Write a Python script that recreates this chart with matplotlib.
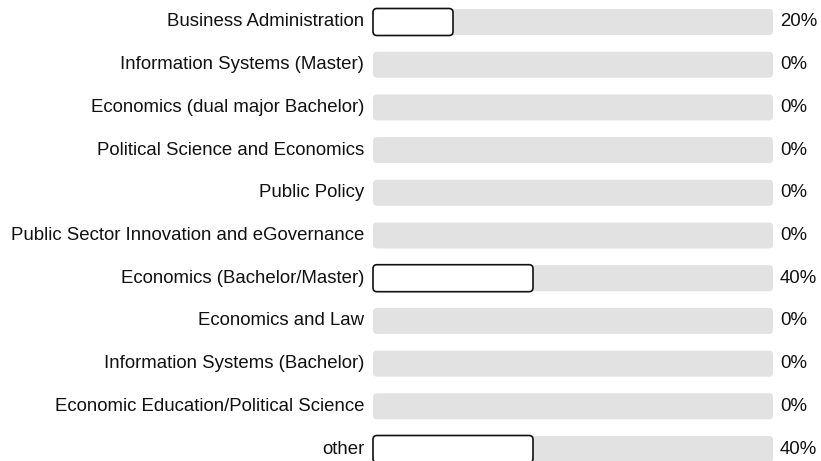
import matplotlib
matplotlib.use("Agg")
import matplotlib.pyplot as plt
from matplotlib.patches import FancyBboxPatch

categories = [
    "Business Administration",
    "Information Systems (Master)",
    "Economics (dual major Bachelor)",
    "Political Science and Economics",
    "Public Policy",
    "Public Sector Innovation and eGovernance",
    "Economics (Bachelor/Master)",
    "Economics and Law",
    "Information Systems (Bachelor)",
    "Economic Education/Political Science",
    "other",
]
values = [20, 0, 0, 0, 0, 0, 40, 0, 0, 0, 40]
value_labels = ["20%", "0%", "0%", "0%", "0%", "0%", "40%", "0%", "0%", "0%", "40%"]

plt.rcParams['font.family'] = ['Liberation Sans', 'DejaVu Sans']

W, H = 821, 461
fig = plt.figure(figsize=(W / 100, H / 100), dpi=100)
x0_px, track_px = 373, 400
row_px = 42.7
first_px = 22
ax = fig.add_axes([x0_px / W, 0, track_px / W, 1])
ax.set_xlim(0, 100)
ax.set_ylim((H - first_px) / row_px, -first_px / row_px)
ax.axis("off")

xunit = 100 / track_px          # data units per px in x
yunit = 1 / row_px              # data units per px in y
aspect = yunit / xunit
r = 4 * xunit

track_h = 26 * yunit
bar_h = 27 * yunit

for i, (cat, v, lab) in enumerate(zip(categories, values, value_labels)):
    tr = FancyBboxPatch((0, i - track_h / 2), 100, track_h,
                        boxstyle=f"round,pad=0,rounding_size={r}",
                        mutation_aspect=aspect, facecolor="#e2e2e2",
                        edgecolor="none", zorder=1, clip_on=False)
    ax.add_patch(tr)
    if v > 0:
        b = FancyBboxPatch((0, i - bar_h / 2), v, bar_h,
                           boxstyle=f"round,pad=0,rounding_size={r}",
                           mutation_aspect=aspect, facecolor="white",
                           edgecolor="#111111", linewidth=1.2, zorder=2,
                           clip_on=False)
        ax.add_patch(b)
    ax.text(-9 * xunit, i, cat, ha="right", va="center", fontsize=13.4,
            color="#111111", clip_on=False)
    ax.text(100 + 7 * xunit, i, lab, ha="left", va="center", fontsize=13.4,
            color="#111111", clip_on=False)

fig.savefig("out.png", dpi=100)
